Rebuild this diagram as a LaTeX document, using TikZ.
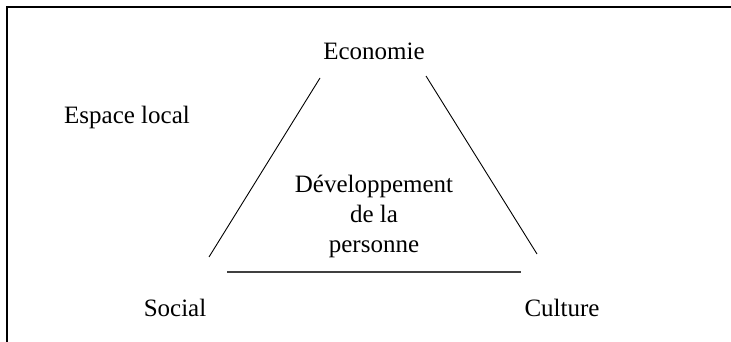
\documentclass[tikz,border=0pt]{standalone}
\usepackage{fontspec}
\setmainfont{Liberation Serif}
\usetikzlibrary{positioning}

\begin{document}
\begin{tikzpicture}[x=1pt,y=-1pt,
        lbl/.style={font=\fontsize{25}{30}\selectfont,align=center,inner sep=0pt},
        edge/.style={line width=0.9pt}]
            \useasboundingbox (0,0) rectangle (731,342);
            \draw[line width=1.1pt] (7,342) -- (7,7) -- (731,7);
            \node[lbl] (eco) at (374,51) {Economie};
            \node[lbl] (espace) at (127,117) {Espace local};
            \node[lbl] (dev) at (374,216) {D\'eveloppement\\de la\\personne};
            \node[lbl] (social) at (175,308) {Social};
            \node[lbl] (culture) at (562,308) {Culture};
            \coordinate (ltop) at (320,78);
            \coordinate (lbot) at (209,257);
            \coordinate (rtop) at (426,76);
            \coordinate (rbot) at (537,254);
            \coordinate (bl) at (227,272);
            \coordinate (br) at (521,272);
            \draw[edge] (ltop) -- (lbot);
            \draw[edge] (rtop) -- (rbot);
            \draw[edge,line width=1.2pt,black!75] (bl) -- (br);
        \end{tikzpicture}
\end{document}
